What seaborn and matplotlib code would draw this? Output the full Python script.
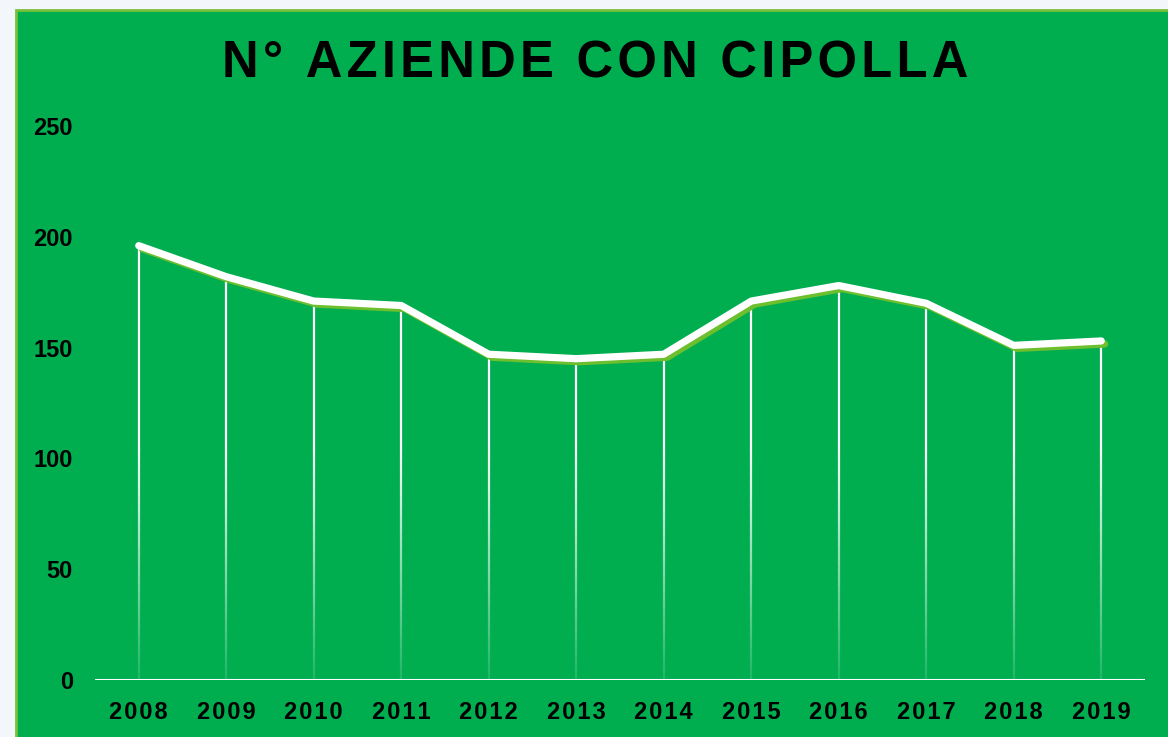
import numpy as np
import pandas as pd
import matplotlib
matplotlib.use("Agg")
import matplotlib.pyplot as plt
import matplotlib.patheffects as pe
from matplotlib.patches import Rectangle
from matplotlib.collections import LineCollection
import seaborn as sns

# dati
anni = [2008, 2009, 2010, 2011, 2012, 2013, 2014, 2015, 2016, 2017, 2018, 2019]
aziende = [196, 182, 171, 169, 147, 145, 147, 171, 178, 170, 151, 153]
y_ticks = [0, 50, 100, 150, 200, 250]
titolo = "N° AZIENDE CON CIPOLLA"

df = pd.DataFrame({"anno": anni, "aziende": aziende})

verde = "#00ae50"
bordo = "#78c03a"
ombra = "#6dbf2d"

sns.set_theme(style="white")
plt.rcParams["font.family"] = ["Liberation Sans", "DejaVu Sans"]

fig = plt.figure(figsize=(11.68, 7.37), dpi=100)
fig.patch.set_facecolor("#f3f7fc")
# pannello verde
fig.patches.append(Rectangle((16 / 1168, -0.01), 1.0, (737 - 10) / 737 + 0.01,
                             transform=fig.transFigure, facecolor=verde,
                             edgecolor=bordo, linewidth=2, zorder=-5))

ax = fig.add_axes([95 / 1168, 57 / 737, 1050 / 1168, 554 / 737])
ax.set_facecolor("none")
ax.set_zorder(2)

# linee verticali sfumate
segs, cols = [], []
for x, v in zip(anni, aziende):
    ys = np.linspace(0, v, 60)
    for a, b in zip(ys[:-1], ys[1:]):
        segs.append([(x, a), (x, b)])
        alpha = min(1.0, 0.12 + ((a + b) / 2) / 120)
        cols.append((1, 1, 1, alpha))
ax.add_collection(LineCollection(segs, colors=cols, linewidths=1.6, zorder=2))

sns.lineplot(data=df, x="anno", y="aziende", ax=ax, color="white", linewidth=5.2,
             solid_capstyle="round", solid_joinstyle="round", zorder=3,
             path_effects=[pe.SimpleLineShadow(offset=(2.5, -2.2), shadow_color=ombra, alpha=1.0),
                           pe.Normal()])

ax.axhline(0, color="white", linewidth=2.2, zorder=4)

ax.set_xlim(2007.5, 2019.5)
ax.set_ylim(0, 250)
ax.set_xticks(anni)
ax.set_xticklabels(["\u200a".join(str(a)) for a in anni], fontsize=17, fontweight="bold", color="black")
ax.set_yticks(y_ticks)
ax.set_yticklabels([str(t) for t in y_ticks], fontsize=17, fontweight="bold", color="black")
ax.tick_params(axis="x", length=0, pad=15)
ax.tick_params(axis="y", length=0, pad=16)
ax.set_xlabel("")
ax.set_ylabel("")
for s in ax.spines.values():
    s.set_visible(False)

fig.text(595 / 1168, 1 - 64 / 737, "\u200a".join(titolo), ha="center", va="center",
         fontsize=36.5, fontweight="bold", color="black", zorder=3)

fig.savefig("out.png", dpi=100, facecolor=fig.get_facecolor())
